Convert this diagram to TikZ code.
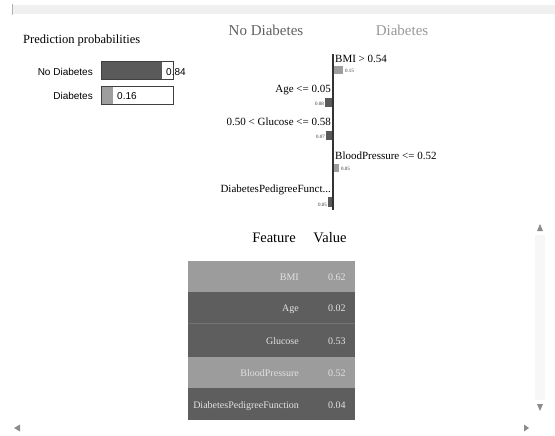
\documentclass[tikz,border=0pt]{standalone}
\usepackage{fontspec}
\setmainfont{Liberation Serif}
\newfontfamily\labelfont{Liberation Sans}
\usetikzlibrary{positioning}
\definecolor{bardark}{HTML}{5A5A5A}
\definecolor{barlight}{HTML}{9E9E9E}
\definecolor{rowdark}{HTML}{5E5E5E}
\definecolor{rowlight}{HTML}{9C9C9C}
\definecolor{celltext}{HTML}{E2E2E2}
\begin{document}
\begin{tikzpicture}[x=1pt, y=-1pt,
	problabel/.style = {font=\labelfont\fontsize{10}{12}\selectfont, inner sep=0pt, anchor=base east},
	probvalue/.style = {font=\labelfont\fontsize{10}{12}\selectfont, inner sep=0pt, anchor=base west},
	rulelabel/.style = {font=\fontsize{11}{13}\selectfont, inner sep=0pt},
	weight/.style = {font=\fontsize{5}{6}\selectfont, inner sep=0pt, text=black!80},
	header/.style = {font=\fontsize{14.5}{16}\selectfont, inner sep=0pt, anchor=base},
	cellname/.style = {font=\fontsize{10}{12}\selectfont, text=celltext, inner sep=0pt, anchor=base east},
	cellvalue/.style = {font=\fontsize{10}{12}\selectfont, text=celltext, inner sep=0pt, anchor=base west},
	scrolltip/.style = {fill=black!45, draw=none}]
	\useasboundingbox (0,0) rectangle (555,436);
	\fill[white] (0,0) rectangle (555,436);
	\fill[black!6] (12,5) rectangle (555,14);
	\draw[black!30] (12,4) -- (12,15);

	\node[font=\fontsize{12.5}{14}\selectfont, inner sep=0pt, anchor=base west] (probtitle) at (23,44) {Prediction probabilities};
	\node[problabel] (nolabel) at (93,76) {No Diabetes};
	\node[problabel] (yeslabel) at (93,100) {Diabetes};
	\fill[bardark] (101,61) rectangle (162,79);
	\fill[barlight] (101,86) rectangle (113,104);
	\draw[black!75, line width=0.9pt] (101,61) rectangle (173,79);
	\draw[black!75, line width=0.9pt] (101,86) rectangle (173,104);
	\node[probvalue] (novalue) at (166,76) {0.84};
	\node[probvalue] (yesvalue) at (117,100) {0.16};

	\node[font=\fontsize{15}{17}\selectfont, text=black!62, inner sep=0pt, anchor=base] (notitle) at (266,36) {No Diabetes};
	\node[font=\fontsize{15}{17}\selectfont, text=black!40, inner sep=0pt, anchor=base] (yestitle) at (402,36) {Diabetes};
	\coordinate (axistop) at (333,54);
	\coordinate (axisbottom) at (333,210);
	\draw[black!80, line width=1.6pt] (axistop) -- (axisbottom);

	\node[rulelabel, anchor=base west] (bmi) at (335,63) {BMI > 0.54};
	\fill[barlight] (333.8,66) rectangle (343,74);
	\node[weight, anchor=base west] (bmiw) at (345,73) {0.15};
	\node[rulelabel, anchor=base east] (age) at (331,93) {Age <= 0.05};
	\fill[bardark] (325,98) rectangle (332.2,107);
	\node[weight, anchor=base east] (agew) at (324,106) {0.08};
	\node[rulelabel, anchor=base east] (glucose) at (331,125) {0.50 < Glucose <= 0.58};
	\fill[bardark] (326,131) rectangle (332.2,140);
	\node[weight, anchor=base east] (glucosew) at (325,139) {0.07};
	\node[rulelabel, anchor=base west] (bp) at (335,160) {BloodPressure <= 0.52};
	\fill[barlight] (333.8,164) rectangle (339,172);
	\node[weight, anchor=base west] (bpw) at (341,171) {0.05};
	\node[rulelabel, anchor=base east] (dpf) at (331,192) {DiabetesPedigreeFunct...};
	\fill[bardark] (328,197) rectangle (332.2,207);
	\node[weight, anchor=base east] (dpfw) at (327,206) {0.05};

	\node[header] (feature) at (274,242) {Feature};
	\node[header] (value) at (330,242) {Value};
	\fill[rowlight] (188,261) rectangle (355,292);
	\fill[rowdark] (188,292) rectangle (355,323);
	\fill[rowdark] (188,323) rectangle (355,357);
	\fill[rowlight] (188,357) rectangle (355,388);
	\fill[rowdark] (188,388) rectangle (355,420);
	\draw[black!55, line width=0.4pt] (188,323) -- (355,323);
	\node[cellname] (bminame) at (299,280) {BMI};
	\node[cellvalue] (bmivalue) at (328,280) {0.62};
	\node[cellname] (agename) at (299,311) {Age};
	\node[cellvalue] (agevalue) at (328,311) {0.02};
	\node[cellname] (glucosename) at (299,344) {Glucose};
	\node[cellvalue] (glucosevalue) at (328,344) {0.53};
	\node[cellname] (bpname) at (299,376) {BloodPressure};
	\node[cellvalue] (bpvalue) at (328,376) {0.52};
	\node[cellname] (dpfname) at (299,408) {DiabetesPedigreeFunction};
	\node[cellvalue] (dpfvalue) at (328,408) {0.04};

	\fill[black!3] (535,235) rectangle (545,400);
	\fill[scrolltip] (537,231) -- (543,231) -- (540,224) -- cycle;
	\fill[scrolltip] (537,404) -- (543,404) -- (540,411) -- cycle;
	\fill[scrolltip] (14,428) -- (20,424.5) -- (20,431.5) -- cycle;
	\fill[scrolltip] (529,428) -- (524,424.5) -- (524,431.5) -- cycle;
\end{tikzpicture}
\end{document}
